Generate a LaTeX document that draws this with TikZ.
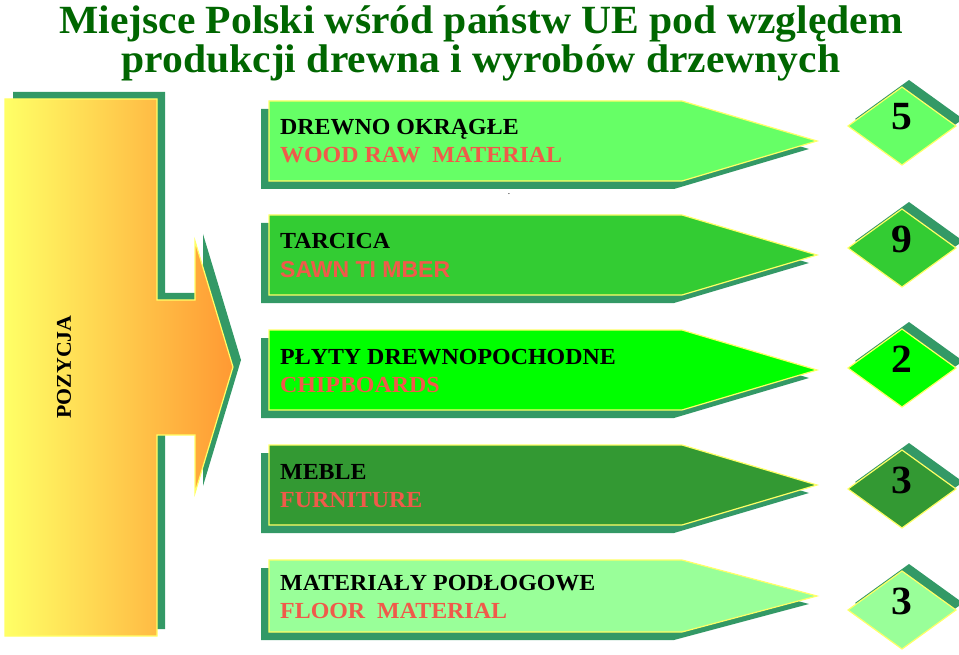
\documentclass[tikz,border=0pt]{standalone}
\usepackage{fontspec}
\setmainfont[FakeStretch=1.04]{Liberation Serif}
\newfontfamily\arialfont{Liberation Sans}
\usetikzlibrary{positioning}
\definecolor{titlegreen}{HTML}{006600}
\definecolor{shadowgreen}{HTML}{339966}
\definecolor{rimyellow}{HTML}{FFFF66}
\definecolor{engred}{HTML}{F05A4A}
\definecolor{arrowyellow}{HTML}{FFFF66}
\definecolor{arroworange}{HTML}{FF9933}
\definecolor{rowA}{HTML}{66FF66}
\definecolor{rowB}{HTML}{33CC33}
\definecolor{rowC}{HTML}{00FF00}
\definecolor{rowD}{HTML}{339933}
\definecolor{rowE}{HTML}{99FF99}
\newcommand{\plfont}{\bfseries\fontsize{23}{23}\selectfont}
\newcommand{\numfont}{\bfseries\fontsize{40}{40}\selectfont}
\newcommand{\titlefont}{\bfseries\fontsize{40}{40}\selectfont}

\begin{document}
\begin{tikzpicture}[x=1pt,y=-1pt,
  rim/.style={draw=rimyellow,line width=1.2pt},
  pltext/.style={anchor=base west,inner sep=0pt,font=\plfont},
  entext/.style={anchor=base west,inner sep=0pt,font=\plfont,text=engred}]
\useasboundingbox (0,0) rectangle (959,655);
\clip (0,0) rectangle (959,655);
% title
\node[anchor=base,inner sep=0pt,text=titlegreen,font=\titlefont] (title1) at (481,34) {Miejsce Polski wśród państw UE pod względem};
\node[anchor=base,inner sep=0pt,text=titlegreen,font=\titlefont] (title2) at (481,73) {produkcji drewna i wyrobów drzewnych};
% big arrow
\fill [shadowgreen,shift={(8,-7)}] (5,99) -- (157,99) -- (157,300) -- (195,300) -- (195,241) -- (233,367) -- (195,493) -- (195,435) -- (157,435) -- (157,636) -- (5,636) -- cycle;
\draw [rim,left color=arrowyellow,right color=arroworange] (5,99) -- (157,99) -- (157,300) -- (195,300) -- (195,241) -- (233,367) -- (195,493) -- (195,435) -- (157,435) -- (157,636) -- (5,636) -- cycle;
\node[rotate=90,font=\bfseries\fontsize{21}{21}\selectfont] (pozycja) at (64,367) {POZYCJA};
% banners and places
\foreach \cy/\h/\col/\pl/\en/\num/\dy [count=\i] in {
  141/40/rowA/{DREWNO OKRĄGŁE}/{WOOD RAW\ \ MATERIAL}/5/126,
  255/40/rowB/{TARCICA}/{\arialfont SAWN TI MBER}/9/248,
  370/40/rowC/{PŁYTY DREWNOPOCHODNE}/{CHIPBOARDS}/2/368,
  485/40/rowD/{MEBLE}/{FURNITURE}/3/489,
  596/36/rowE/{MATERIAŁY PODŁOGOWE}/{FLOOR\ \ MATERIAL}/3/610}
{
  \fill [shadowgreen,shift={(-8,8)}] (269,{\cy-\h}) -- (682,{\cy-\h}) -- (817,\cy) -- (682,{\cy+\h}) -- (269,{\cy+\h}) -- cycle;
  \draw [rim,fill=\col] (269,{\cy-\h}) -- (682,{\cy-\h}) -- (817,\cy) -- (682,{\cy+\h}) -- (269,{\cy+\h}) -- cycle;
  \node[pltext] (pl\i) at (280,{\cy-6}) {\pl};
  \node[entext] (en\i) at (280,{\cy+22}) {\en};
  \fill [shadowgreen,shift={(7,-7)}] (848,\dy) -- (902,{\dy-39}) -- (956,\dy) -- (902,{\dy+39}) -- cycle;
  \draw [rim,fill=\col] (848,\dy) -- (902,{\dy-39}) -- (956,\dy) -- (902,{\dy+39}) -- cycle;
  \node[font=\numfont,inner sep=0pt] (num\i) at (902,{\dy-9}) {\num};
}
\node[anchor=base,inner sep=0pt,font=\fontsize{9}{9}\selectfont] (dot) at (509,195) {.};
\end{tikzpicture}
\end{document}
